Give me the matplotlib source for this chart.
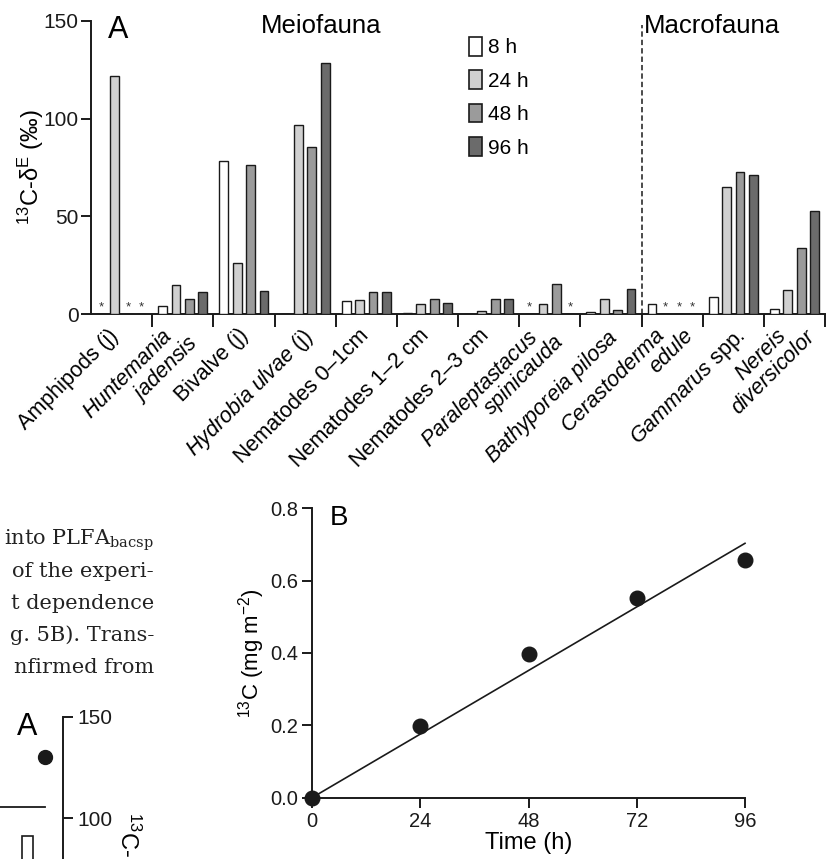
import numpy as np
import matplotlib
matplotlib.use("Agg")
import matplotlib.pyplot as plt
from matplotlib.patches import Patch, Rectangle
from matplotlib.transforms import offset_copy

plt.rcParams['font.family'] = ['Liberation Sans', 'DejaVu Sans']
plt.rcParams['mathtext.fontset'] = 'custom'
plt.rcParams['mathtext.rm'] = 'Liberation Sans'
plt.rcParams['mathtext.it'] = 'Liberation Sans:italic'
plt.rcParams['mathtext.default'] = 'regular'

# ---------------- data: panel A ----------------
# each category label as a list of its lines
categories = [
    ["Amphipods (j)"],
    ["$\\mathit{Huntemania}$", "$\\mathit{jadensis}$"],
    ["Bivalve (j)"],
    ["$\\mathit{Hydrobia\\ ulvae}$ (j)"],
    ["Nematodes 0\u20131cm"],
    ["Nematodes 1\u20132 cm"],
    ["Nematodes 2\u20133 cm"],
    ["$\\mathit{Paraleptastacus}$", "$\\mathit{spinicauda}$"],
    ["$\\mathit{Bathyporeia\\ pilosa}$"],
    ["$\\mathit{Cerastoderma}$", "$\\mathit{edule}$"],
    ["$\\mathit{Gammarus}$ spp."],
    ["$\\mathit{Nereis}$", "$\\mathit{diversicolor}$"],
]
series_labels = ["8 h", "24 h", "48 h", "96 h"]
# NaN = no bar
v8h  = [np.nan, 4.3, 78.2, np.nan, 6.5, 0.5, np.nan, np.nan, 1.2, 4.9, 8.7, 2.6]
v24h = [122.0, 14.8, 26.3, 96.6, 7.3, 4.9, 1.7, 4.9, 7.8, np.nan, 65.2, 12.4]
v48h = [np.nan, 7.7, 76.3, 85.7, 11.1, 7.5, 7.7, 15.5, 1.9, np.nan, 72.7, 33.9]
v96h = [np.nan, 11.3, 11.9, 128.4, 11.1, 5.5, 7.5, np.nan, 13.0, np.nan, 71.2, 52.7]
# asterisks: (category index, series index)
asterisks = [(0, 0), (0, 2), (0, 3), (7, 0), (7, 3), (9, 1), (9, 2), (9, 3)]
yticks_A = [0, 50, 100, 150]

# ---------------- data: panel B ----------------
time_h = [0, 24, 48, 72, 96]
c13 = [0.0, 0.199, 0.396, 0.553, 0.656]
xticks_B = [0, 24, 48, 72, 96]
yticks_B = [0.0, 0.2, 0.4, 0.6, 0.8]

# ---------------- data: cropped neighbouring text / figure ----------------
text_lines = ["into PLFA$_{\\mathrm{bacsp}}$", "of the experi-", "t dependence",
              "g. 5B). Trans-", "nfirmed from"]
frag_point = 130.0
frag_hline = 105.4
frag_bar = 91.0
frag_yticks = [100, 150]

# ---------------- layout of tick-label lines (pixels, not data) ---------------
label_dx = [-13.5, -21, -6, -4, -8, -9, -10, -23, -4.5, -17.5, 1, -18]
line2_along = {1: 13, 7: 14, 9: 20, 11: 21}
line2_perp = 21

W, H = 832, 859
fig = plt.figure(figsize=(W / 100, H / 100), dpi=100)

def px_axes(x0, y_top, x1, y_bot):
    return fig.add_axes([x0 / W, (H - y_bot) / H, (x1 - x0) / W, (y_bot - y_top) / H])

colors = ["#ffffff", "#d0d0d0", "#9b9b9b", "#6b6b6b"]
edge = "#1a1a1a"

# ================= Panel A =================
axA = px_axes(91, 21, 825, 314)
series = [v8h, v24h, v48h, v96h]
n = len(categories)
xc = np.arange(n)
offsets = [-0.328, -0.11, 0.11, 0.328]
bw = 0.145
for s, (vals, off) in enumerate(zip(series, offsets)):
    axA.bar(xc + off, np.nan_to_num(np.array(vals, dtype=float)), width=bw,
            color=colors[s], edgecolor=edge, linewidth=1.0, label=series_labels[s],
            zorder=3)
for ci, si in asterisks:
    axA.text(ci + offsets[si], 0.4, "*", ha="center", va="bottom", fontsize=9.5,
             color="#333333")

axA.set_xlim(-0.5, n - 0.5)
axA.set_ylim(0, 150)
for sp in ["top", "right"]:
    axA.spines[sp].set_visible(False)
for sp in ["left", "bottom"]:
    axA.spines[sp].set_linewidth(1.4)
    axA.spines[sp].set_color("#1a1a1a")
axA.set_yticks(yticks_A)
axA.tick_params(axis="y", length=7, width=1.4, labelsize=15, pad=2, colors="#1a1a1a")
axA.set_xticks(np.arange(n) + 0.5)
axA.set_xticklabels([])
axA.tick_params(axis="x", which="major", length=9, width=1.4, colors="#1a1a1a")

r2 = np.sqrt(2.0)
for i, lines in enumerate(categories):
    for k, line in enumerate(lines):
        dx, dy = label_dx[i], -11.0
        if k == 1:
            a = line2_along[i]
            dx += (a + line2_perp) / r2
            dy += (a - line2_perp) / r2
        tr = offset_copy(axA.transData, fig=fig, x=dx, y=dy, units="dots")
        axA.text(xc[i], 0, line, transform=tr, rotation=45, ha="right", va="top",
                 rotation_mode="anchor", fontsize=15.5, clip_on=False)

axA.set_ylabel("$^{13}$C-\u03b4$^{E}$ (\u2030)", fontsize=17)
axA.yaxis.set_label_coords(-0.061, 0.5)
axA.axvline(8.5, ymin=0, ymax=0.985, color="#1a1a1a", linestyle=(0, (3.5, 2)),
            linewidth=1.1)
axA.text(108 / W, 1 - 38 / H, "A", transform=fig.transFigure, fontsize=22,
         va="baseline", ha="left")
axA.text(321 / W, 1 - 33 / H, "Meiofauna", transform=fig.transFigure, fontsize=18.5,
         ha="center", va="baseline")
axA.text(712 / W, 1 - 33 / H, "Macrofauna", transform=fig.transFigure, fontsize=18.5,
         ha="center", va="baseline")
handles = [Patch(facecolor=c, edgecolor=edge, linewidth=1.2) for c in colors]
axA.legend(handles, series_labels, loc="upper left",
           bbox_to_anchor=(469 / W, 1 - 37 / H), bbox_transform=fig.transFigure,
           frameon=False, fontsize=15, handlelength=0.6, handleheight=1.0,
           handletextpad=0.3, labelspacing=0.62, borderpad=0, borderaxespad=0)

# ================= Panel B =================
axB = px_axes(312, 508.3, 745, 797.7)
slope = np.sum(np.array(time_h) * np.array(c13)) / np.sum(np.array(time_h) ** 2)
tfit = np.array([time_h[0], time_h[-1]])
axB.plot(tfit, slope * tfit, color="#1a1a1a", linewidth=1.2, clip_on=False)
axB.plot(time_h, c13, "o", color="#1a1a1a", markersize=10.5, clip_on=False, zorder=4)
axB.set_xlim(0, 96)
axB.set_ylim(0, 0.8)
for sp in ["top", "right"]:
    axB.spines[sp].set_visible(False)
for sp in ["left", "bottom"]:
    axB.spines[sp].set_linewidth(1.4)
    axB.spines[sp].set_color("#1a1a1a")
axB.set_xticks(xticks_B)
axB.set_yticks(yticks_B)
axB.set_yticklabels([f"{v:.1f}" for v in yticks_B])
axB.tick_params(length=7, width=1.4, labelsize=14.5, pad=3, colors="#1a1a1a")
axB.set_xlabel("Time (h)", fontsize=17, labelpad=1)
axB.set_ylabel("$^{13}$C (mg m$^{\u22122}$)", fontsize=16)
axB.yaxis.set_label_coords(-0.104, 0.5)
axB.text(330 / W, 1 - 525 / H, "B", transform=fig.transFigure, fontsize=20,
         va="baseline", ha="left")

# ================= Cropped text and neighbouring figure =================
for i, line in enumerate(text_lines):
    fig.text(154 / W, 1 - (545 + 32 * i) / H, line, ha="right", va="baseline",
             fontsize=15, family="DejaVu Serif", color="#222222",
             math_fontfamily="dejavuserif")

axF = px_axes(-100, 717, 63, 717 + 303)
axF.set_xlim(0, 1)
axF.set_ylim(0, 150)
for sp in ["top", "left", "bottom"]:
    axF.spines[sp].set_visible(False)
axF.spines["right"].set_linewidth(1.4)
axF.spines["right"].set_color("#1a1a1a")
axF.yaxis.tick_right()
axF.set_yticks(frag_yticks)
axF.set_xticks([])
axF.tick_params(axis="y", length=7, width=1.4, labelsize=15, pad=3, colors="#1a1a1a")
axF.patch.set_visible(False)
axF.plot([145 / 163], [frag_point], "o", color="#1a1a1a", markersize=10, clip_on=False)
axF.plot([0, 145 / 163], [frag_hline, frag_hline], color="#1a1a1a", linewidth=1.3)
axF.add_patch(Rectangle((122 / 163, 0), 11 / 163, frag_bar, facecolor="white",
                        edgecolor="#1a1a1a", linewidth=1.2))
fig.text(128 / W, 1 - 812 / H, "$^{13}$C-", rotation=270,
         ha="center", va="top", fontsize=17)
fig.text(17 / W, 1 - 735 / H, "A", fontsize=22, ha="left", va="baseline")

fig.savefig("out.png", dpi=100)
